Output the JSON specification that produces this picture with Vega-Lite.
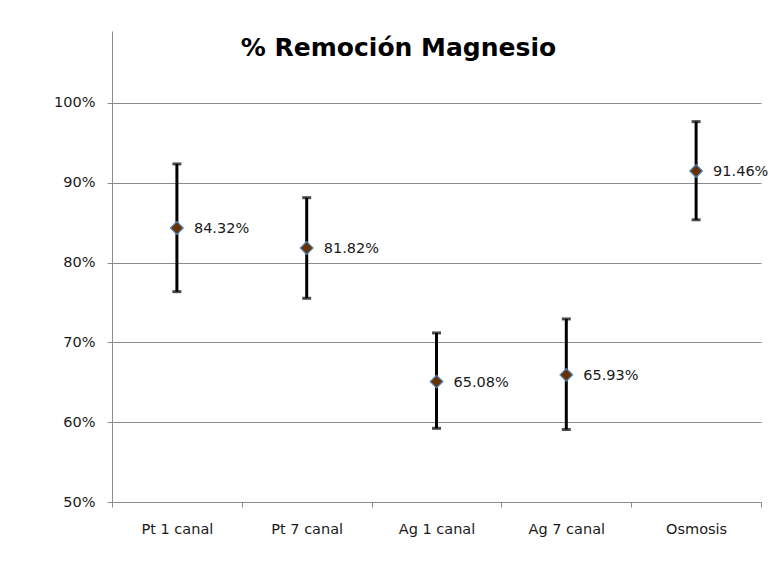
{
  "$schema": "https://vega.github.io/schema/vega-lite/v6.json",
  "width": 649,
  "height": 471,
  "autosize": {"type": "none"},
  "padding": {"left": 112, "top": 31, "right": 18, "bottom": 73},
  "background": "white",
  "data": {
    "values": [
      {"grupo": "Pt 1 canal", "remocion": 0.8432, "min": 0.7635, "max": 0.9235},
      {"grupo": "Pt 7 canal", "remocion": 0.8182, "min": 0.7552, "max": 0.8812},
      {"grupo": "Ag 1 canal", "remocion": 0.6508, "min": 0.5923, "max": 0.7118},
      {"grupo": "Ag 7 canal", "remocion": 0.6593, "min": 0.5908, "max": 0.7293},
      {"grupo": "Osmosis", "remocion": 0.9146, "min": 0.8535, "max": 0.9765}
    ]
  },
  "encoding": {
    "x": {
      "field": "grupo",
      "type": "nominal",
      "sort": null,
      "scale": {"paddingInner": 0, "paddingOuter": 0},
      "axis": {
        "title": null,
        "labelAngle": 0,
        "tickBand": "extent",
        "tickSize": 5,
        "tickColor": "#8c8c8c",
        "domainColor": "#8c8c8c",
        "labelFont": "DejaVu Sans",
        "labelFontSize": 14.5,
        "labelColor": "#1a1a1a",
        "labelPadding": 15
      }
    }
  },
  "layer": [
    {
      "mark": {"type": "rule", "color": "#000000", "strokeWidth": 3},
      "encoding": {
        "y": {
          "field": "min",
          "type": "quantitative",
          "scale": {"domain": [0.5, 1.09], "nice": false, "zero": false},
          "axis": {
            "title": null,
            "values": [0.5, 0.6, 0.7, 0.8, 0.9, 1.0],
            "format": ".0%",
            "grid": true,
            "gridColor": "#8c8c8c",
            "gridWidth": 1,
            "tickSize": 5,
            "tickColor": "#8c8c8c",
            "domainColor": "#8c8c8c",
            "labelFont": "DejaVu Sans",
            "labelFontSize": 14.5,
            "labelColor": "#1a1a1a",
            "labelPadding": 12
          }
        },
        "y2": {"field": "max"}
      }
    },
    {
      "mark": {"type": "tick", "color": "#000000", "size": 9, "thickness": 3},
      "encoding": {"y": {"field": "min", "type": "quantitative"}}
    },
    {
      "mark": {"type": "tick", "color": "#000000", "size": 9, "thickness": 3},
      "encoding": {"y": {"field": "max", "type": "quantitative"}}
    },
    {
      "mark": {"type": "point", "shape": "diamond", "filled": true, "fill": "#663300", "stroke": "#4f81bd", "strokeWidth": 1.2, "size": 160, "opacity": 1},
      "encoding": {"y": {"field": "remocion", "type": "quantitative"}}
    },
    {
      "mark": {"type": "text", "align": "left", "baseline": "middle", "dx": 17, "dy": 1, "font": "DejaVu Sans", "fontSize": 14.5, "color": "#1a1a1a"},
      "encoding": {
        "y": {"field": "remocion", "type": "quantitative"},
        "text": {"field": "remocion", "type": "quantitative", "format": ".2%"}
      }
    },
    {
      "data": {"values": [{"titulo": "% Remoción Magnesio"}]},
      "mark": {"type": "text", "align": "center", "baseline": "alphabetic", "dx": -38, "font": "DejaVu Sans", "fontSize": 25, "fontWeight": "bold", "color": "#000000"},
      "encoding": {
        "x": {"datum": "Ag 1 canal"},
        "y": {"datum": 1.059, "type": "quantitative"},
        "text": {"field": "titulo", "type": "nominal"}
      }
    }
  ],
  "config": {"view": {"stroke": null}}
}
